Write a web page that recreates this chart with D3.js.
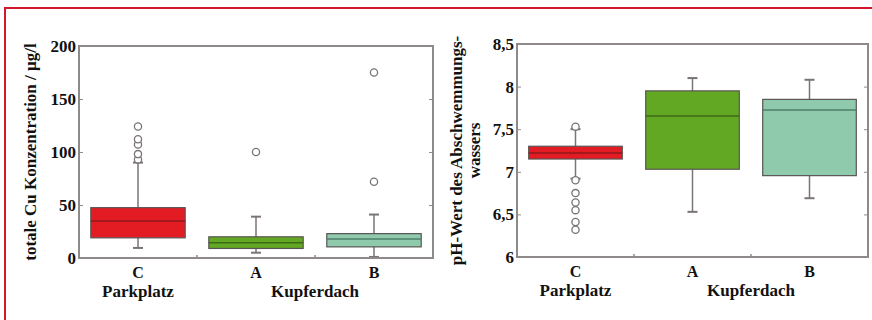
<!DOCTYPE html>
<html>
<head>
<meta charset="utf-8">
<script src="https://cdn.jsdelivr.net/npm/d3@7"></script>
<style>
  body { margin: 0; background: #fff; }
  svg { display: block; }
  text { font-family: "Liberation Serif", "Times New Roman", serif; font-weight: bold; fill: #111; }
</style>
</head>
<body>
<div id="chart"></div>
<script>
// Categories and groups
var categories = ["C", "A", "B"];
var groups = [
  {name: "Parkplatz", cats: ["C"]},
  {name: "Kupferdach", cats: ["A", "B"]}
];
var boxColors = ["#e31b23", "#63a823", "#8ecaab"];
var medianColors = ["#8f1a1c", "#3d6a1a", "#4f7f6a"];

// Cu concentration (µg/l)
var cuTicks = [0, 50, 100, 150, 200];
var cuLow = [9.5, 5, 1];
var cuQ1 = [19, 9, 10.5];
var cuMedian = [35, 14.5, 18];
var cuQ3 = [47.5, 20, 23];
var cuHigh = [90, 39, 41];
var cuOutliers = [[93, 98, 107, 112, 124], [100], [72, 175]];

// pH value
var phTicks = [6, 6.5, 7, 7.5, 8, 8.5];
var phLow = [6.92, 6.53, 6.69];
var phQ1 = [7.15, 7.03, 6.955];
var phMedian = [7.22, 7.655, 7.725];
var phQ3 = [7.3, 7.95, 7.85];
var phHigh = [7.5, 8.1, 8.08];
var phOutliers = [[6.32, 6.41, 6.55, 6.64, 6.75, 6.9, 7.53], [], []];

var svg = d3.select("#chart")
  .append("svg")
    .attr("width", 872)
    .attr("height", 320);

// red frame round the figure
svg.append("rect")
  .attr("x", 5).attr("y", 8)
  .attr("width", 900).attr("height", 400)
  .attr("fill", "none")
  .attr("stroke", "#d2192b")
  .attr("stroke-width", 2);

var comma = d3.formatLocale({decimal: ",", thousands: ".", grouping: [3], currency: ["", "€"]});

function drawBox(opt) {
  var x = d3.scaleBand().domain(categories).range([opt.left, opt.right]).padding(0);
  var y = d3.scaleLinear().domain(opt.domain).range([opt.bottom, opt.top]);
  var g = svg.append("g");
  var bw = x.bandwidth() * 0.8;

  var stats = categories.map(function(c, i) {
    return {cat: c, i: i, low: opt.low[i], q1: opt.q1[i], med: opt.med[i],
            q3: opt.q3[i], high: opt.high[i], out: opt.out[i]};
  });

  var box = g.selectAll("g.box").data(stats).enter().append("g").attr("class", "box");
  var cx = function(d) { return x(d.cat) + x.bandwidth() / 2; };

  // whiskers
  box.append("line")
    .attr("x1", cx).attr("x2", cx)
    .attr("y1", function(d) { return y(d.low); })
    .attr("y2", function(d) { return y(d.high); })
    .attr("stroke", "#7a7474").attr("stroke-width", 1.5);
  ["low", "high"].forEach(function(k) {
    box.append("line")
      .attr("x1", function(d) { return cx(d) - 5; })
      .attr("x2", function(d) { return cx(d) + 5; })
      .attr("y1", function(d) { return y(d[k]); })
      .attr("y2", function(d) { return y(d[k]); })
      .attr("stroke", "#7a7474").attr("stroke-width", 2);
  });

  box.append("rect")
    .attr("x", function(d) { return cx(d) - bw / 2; })
    .attr("width", bw)
    .attr("y", function(d) { return y(d.q3); })
    .attr("height", function(d) { return y(d.q1) - y(d.q3); })
    .attr("fill", function(d) { return boxColors[d.i]; })
    .attr("stroke", "#5a5555").attr("stroke-width", 1.2);

  box.append("line")
    .attr("x1", function(d) { return cx(d) - bw / 2; })
    .attr("x2", function(d) { return cx(d) + bw / 2; })
    .attr("y1", function(d) { return y(d.med); })
    .attr("y2", function(d) { return y(d.med); })
    .attr("stroke", function(d) { return medianColors[d.i]; })
    .attr("stroke-width", 1.5);

  box.selectAll("circle")
    .data(function(d) { return d.out.map(function(v) { return {cat: d.cat, v: v}; }); })
    .enter().append("circle")
      .attr("cx", cx)
      .attr("cy", function(d) { return y(d.v); })
      .attr("r", 3.6)
      .attr("fill", "#fff")
      .attr("stroke", "#7a7474")
      .attr("stroke-width", 1.3);

  // axes with inward ticks
  var fmt = opt.format;
  var yl = g.append("g").attr("transform", "translate(" + opt.left + ",0)")
    .call(d3.axisLeft(y).tickValues(opt.ticks).tickFormat(fmt).tickSizeInner(-4).tickSizeOuter(0).tickPadding(3));
  yl.select(".domain").remove();
  yl.selectAll("line").attr("stroke", "#8e8a8a");
  yl.selectAll("text").style("font-size", "17px").attr("fill", "#111");

  var yr = g.append("g").attr("transform", "translate(" + opt.right + ",0)")
    .call(d3.axisRight(y).tickValues(opt.ticks.slice(1, -1)).tickFormat("").tickSizeInner(-4).tickSizeOuter(0));
  yr.select(".domain").remove();
  yr.selectAll("line").attr("stroke", "#8e8a8a");

  // small ticks at the band boundaries
  g.selectAll("line.bt").data(categories.slice(1)).enter().append("line")
    .attr("class", "bt")
    .attr("x1", function(c) { return x(c); })
    .attr("x2", function(c) { return x(c); })
    .attr("y1", opt.bottom).attr("y2", opt.bottom - 3)
    .attr("stroke", "#8e8a8a").attr("stroke-width", 1.5);

  g.append("rect")
    .attr("x", opt.left).attr("y", opt.top)
    .attr("width", opt.right - opt.left).attr("height", opt.bottom - opt.top)
    .attr("fill", "none").attr("stroke", "#8e8a8a").attr("stroke-width", 2);

  // category labels
  g.selectAll("text.cat").data(categories).enter().append("text")
    .attr("class", "cat")
    .attr("x", function(c) { return x(c) + x.bandwidth() / 2; })
    .attr("y", opt.bottom + 20)
    .attr("text-anchor", "middle")
    .style("font-size", "16px")
    .text(function(c) { return c; });

  g.selectAll("text.grp").data(groups).enter().append("text")
    .attr("class", "grp")
    .attr("x", function(gr) {
      return d3.mean(gr.cats, function(c) { return x(c) + x.bandwidth() / 2; });
    })
    .attr("y", opt.bottom + 39)
    .attr("text-anchor", "middle")
    .style("font-size", "17px")
    .text(function(gr) { return gr.name; });

  // y label
  var mid = (opt.top + opt.bottom) / 2;
  opt.ylabel.forEach(function(line, k) {
    g.append("text")
      .attr("transform", "translate(" + opt.ylabelX[k] + "," + mid + ")rotate(-90)")
      .attr("text-anchor", "middle")
      .style("font-size", "17px")
      .text(line);
  });
}

drawBox({
  left: 79, right: 433, top: 46, bottom: 258,
  domain: [0, 200], ticks: cuTicks, format: d3.format("d"),
  low: cuLow, q1: cuQ1, med: cuMedian, q3: cuQ3, high: cuHigh, out: cuOutliers,
  ylabel: ["totale Cu Konzentration / µg/l"], ylabelX: [36]
});

drawBox({
  left: 517, right: 868, top: 44, bottom: 257,
  domain: [6, 8.5], ticks: phTicks, format: comma.format(","),
  low: phLow, q1: phQ1, med: phMedian, q3: phQ3, high: phHigh, out: phOutliers,
  ylabel: ["pH-Wert des Abschwemmungs-", "wassers"], ylabelX: [462, 480]
});
</script>
</body>
</html>
